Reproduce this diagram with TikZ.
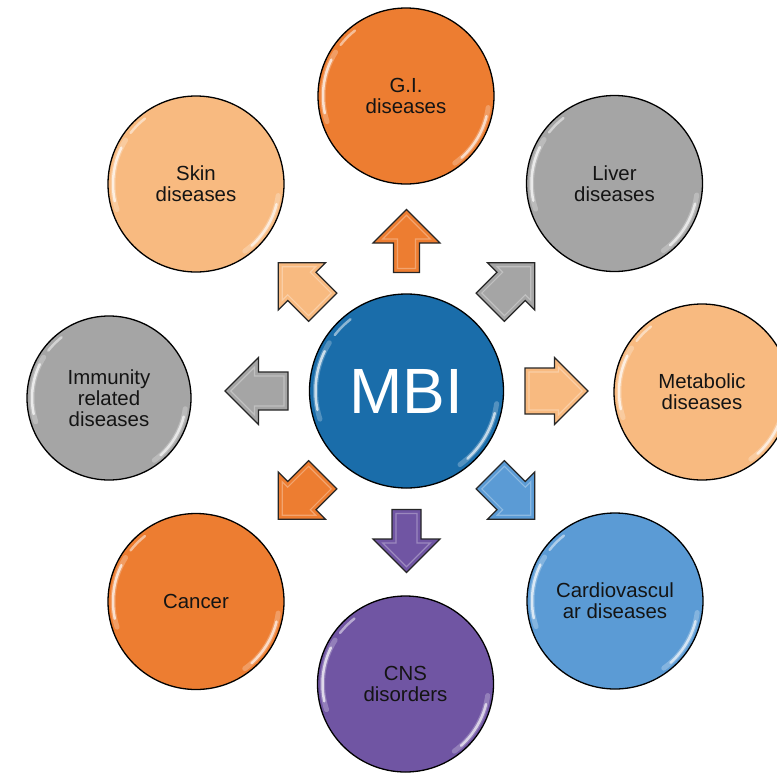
\documentclass[tikz,border=0pt]{standalone}
\usepackage{fontspec}
\setmainfont{Liberation Sans}
\usetikzlibrary{calc}
\definecolor{cOrange}{HTML}{ED7D31}
\definecolor{cGray}{HTML}{A5A5A5}
\definecolor{cPeach}{HTML}{F8BA80}
\definecolor{cBlue}{HTML}{5B9BD5}
\definecolor{cPurple}{HTML}{7055A3}
\definecolor{cMBI}{HTML}{1A6DAA}
\definecolor{cText}{HTML}{141414}
\tikzset{
  disc/.style={circle, draw=black, line width=1.3pt, inner sep=0pt, minimum size=176pt,
    align=center, font=\fontsize{20.4}{21}\selectfont, text=cText},
  glossline/.style={white, line cap=round},
  arrowbody/.style={draw=black!85, line width=1.2pt, line join=miter},
  bevel/.style={draw=white, line width=1.2pt, opacity=0.3, line join=miter},
}
\newcommand{\glossy}[2]{% node name, arc radius (pt)
  \draw[glossline, line width=5pt, opacity=0.25] ($(#1.center)+(198:#2pt)$) arc[start angle=198, end angle=148, radius=#2pt];
  \draw[glossline, line width=2.5pt, opacity=0.7] ($(#1.center)+(192:#2pt)$) arc[start angle=192, end angle=154, radius=#2pt];
  \draw[glossline, line width=2.5pt, opacity=0.5] ($(#1.center)+(142:#2pt)$) arc[start angle=142, end angle=128, radius=#2pt];
  \draw[glossline, line width=5pt, opacity=0.25] ($(#1.center)+(-8:#2pt)$) arc[start angle=-8, end angle=-54, radius=#2pt];
  \draw[glossline, line width=2.5pt, opacity=0.65] ($(#1.center)+(-14:#2pt)$) arc[start angle=-14, end angle=-48, radius=#2pt];
}
\newcommand{\blockarrow}[3]{% angle, colour, shaft half width
  \begin{scope}[shift={(mbi.center)}, rotate=#1]
    \pgfmathsetmacro{\hw}{#3}
    \pgfmathsetmacro{\hi}{#3-4}
    \filldraw[arrowbody, fill=#2] (118.5,-\hw) -- (148,-\hw) -- (148,-33.5) -- (181.5,0)
      -- (148,33.5) -- (148,\hw) -- (118.5,\hw) -- cycle;
    \draw[bevel] (122.5,-\hi) -- (152,-\hi) -- (152,-23.8) -- (175.8,0)
      -- (152,23.8) -- (152,\hi) -- (122.5,\hi) -- cycle;
  \end{scope}}
\begin{document}
\begin{tikzpicture}[x=1pt, y=-1pt]
  \useasboundingbox (0,0) rectangle (777,774);
  \clip (0,0) rectangle (777,774);

  % central node
  \node[disc, fill=cMBI, minimum size=194pt, text=white,
        font=\fontsize{64}{64}\selectfont] (mbi) at (406.5,391) {MBI};
  \glossy{mbi}{91}

  % outer nodes
  \node[disc, fill=cOrange] (gi)     at (406,96)    {G.I.\\diseases};
  \node[disc, fill=cGray]   (liver)  at (614.5,183.5) {Liver\\diseases};
  \node[disc, fill=cPeach]  (metab)  at (702,392)   {Metabolic\\diseases};
  \node[disc, fill=cBlue]   (cardio) at (615,601)   {Cardiovascul\\ar diseases};
  \node[disc, fill=cPurple] (cns)    at (405.5,684) {CNS\\disorders};
  \node[disc, fill=cOrange] (cancer) at (196,601.5) {Cancer};
  \node[disc, fill=cGray, minimum size=164pt] (immun) at (109,398) {Immunity\\related\\diseases};
  \node[disc, fill=cPeach]  (skin)   at (196,184)   {Skin\\diseases};

  \foreach \n in {gi,liver,metab,cardio,cns,cancer,skin}{\glossy{\n}{83}}
  \glossy{immun}{77}

  % block arrows radiating from MBI
  \blockarrow{90}{cOrange}{13}
  \blockarrow{45}{cGray}{20}
  \blockarrow{0}{cPeach}{23}
  \blockarrow{-45}{cBlue}{20}
  \blockarrow{-90}{cPurple}{14.5}
  \blockarrow{-135}{cOrange}{20}
  \blockarrow{180}{cGray}{19}
  \blockarrow{135}{cPeach}{20}
\end{tikzpicture}
\end{document}
